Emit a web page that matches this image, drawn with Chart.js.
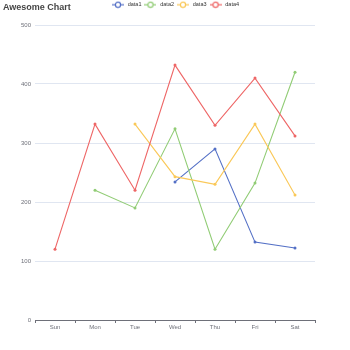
<!DOCTYPE html>
<html>
<head>
<meta charset="utf-8">
<script src="https://cdn.jsdelivr.net/npm/chart.js@4/dist/chart.umd.min.js"></script>
<style>
  body { margin: 0; background: #fff; }
  #wrap { position: relative; width: 350px; height: 350px; }
  #title { position: absolute; left: 3px; top: 2px; font: bold 9px "Liberation Sans", Arial, sans-serif; color: #464646; }
</style>
</head>
<body>
<div id="wrap">
  <canvas id="chart" width="350" height="350"></canvas>
  <div id="title">Awesome Chart</div>
</div>
<script>
const days = ['Sun', 'Mon', 'Tue', 'Wed', 'Thu', 'Fri', 'Sat'];
const data1 = [null, null, null, 234, 290, 132, 122];
const data2 = [null, 220, 190, 324, 120, 232, 420];
const data3 = [null, null, 332, 243, 230, 332, 212];
const data4 = [120, 332, 220, 432, 330, 410, 312];
const seriesNames = ['data1', 'data2', 'data3', 'data4'];
const colors = ['#5470c6', '#91cc75', '#fac858', '#ee6666'];

// legend icon like echarts: short line with a hollow circle
function legendIcon(color) {
  const c = document.createElement('canvas');
  c.width = 12; c.height = 8;
  const g = c.getContext('2d');
  g.strokeStyle = color;
  g.lineWidth = 1.2;
  g.beginPath(); g.moveTo(0, 4); g.lineTo(12, 4); g.stroke();
  g.beginPath(); g.arc(6, 4, 2.6, 0, Math.PI * 2);
  g.fillStyle = '#fff'; g.fill(); g.stroke();
  return c;
}

const allData = [data1, data2, data3, data4];
const datasets = allData.map((d, i) => ({
  label: seriesNames[i],
  data: d,
  borderColor: colors[i],
  backgroundColor: colors[i],
  borderWidth: 1.1,
  pointRadius: 1.5,
  pointBackgroundColor: colors[i],
  pointBorderWidth: 0,
  order: 4 - i,
  tension: 0
}));

const fontFam = '"Liberation Sans", Arial, sans-serif';
const tickFont = { family: fontFam, size: 6 };

// the y paddingTop pushes the legend down too, pull it back to the top edge
const legendTop = {
  id: 'legendTop',
  afterLayout(chart) {
    const lg = chart.legend;
    const h = lg.height;
    lg.top = 0;
    lg.bottom = h;
  }
};

new Chart(document.getElementById('chart'), {
  type: 'line',
  data: { labels: days, datasets: datasets },
  plugins: [legendTop],
  options: {
    responsive: false,
    animation: false,
    layout: { padding: 0 },
    plugins: {
      tooltip: { enabled: false },
      legend: {
        position: 'top',
        labels: {
          usePointStyle: true,
          pointStyleWidth: 14,
          padding: 2,
          color: '#333',
          font: { family: fontFam, size: 5.5 },
          generateLabels: chart => chart.data.datasets.map((ds, i) => ({
            text: ds.label,
            pointStyle: legendIcon(colors[i]),
            fontColor: '#333',
            strokeStyle: ds.borderColor,
            fillStyle: ds.borderColor,
            lineWidth: 0,
            datasetIndex: i
          }))
        }
      }
    },
    scales: {
      x: {
        offset: true,
        grid: { offset: true, drawOnChartArea: false, drawTicks: true, tickLength: 3, color: '#6e7079' },
        border: { color: '#6e7079' },
        ticks: { color: '#6e7079', font: tickFont, padding: 1, maxRotation: 0 },
        afterFit: s => { s.height = 30; }
      },
      y: {
        min: 0,
        max: 500,
        grid: { color: '#e0e6f1', drawTicks: false },
        border: { display: false },
        ticks: { stepSize: 100, color: '#6e7079', font: tickFont, padding: 4 },
        afterFit: s => { s.width = 35; s.paddingTop = 25; }
      },
      // empty right axis, only keeps the 35px right margin so the legend stays centred
      y2: {
        position: 'right',
        min: 0,
        max: 500,
        grid: { drawOnChartArea: false, drawTicks: false },
        border: { display: false },
        ticks: { display: false },
        afterFit: s => { s.width = 35; }
      }
    }
  }
});
</script>
</body>
</html>
